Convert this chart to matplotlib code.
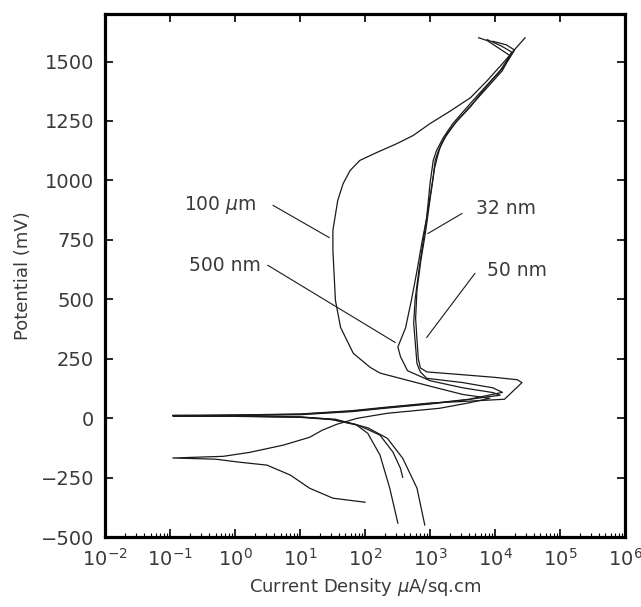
import matplotlib
matplotlib.use('Agg')
import matplotlib.pyplot as plt
import numpy as np

# Polarisation curves: current density (uA/sq.cm), potential (mV)
# each curve runs from the end of the cathodic branch, through Ecorr, up the anodic branch

cur100um = [100, 32, 14, 7.1, 3.1, 1.2, 0.5, 0.11, 0.66, 1.7, 5.5, 14, 22, 37, 76, 220, 1400, 4000, 8300,
			3200, 1000, 380, 170, 120, 66, 42, 35, 32, 32, 38, 46, 59, 83, 150, 310, 550, 1000, 2000, 4200, 7600, 13000, 20000, 29000]
pot100um = [-353, -336, -294, -239, -197, -185, -172, -167, -160, -143, -113, -80, -50, -25, 0, 21, 42, 65, 84,
			100, 135, 165, 190, 214, 273, 382, 496, 706, 790, 916, 987, 1042, 1084, 1117, 1155, 1189, 1239, 1290, 1348, 1420, 1491, 1550, 1600]

cur500nm = [320, 240, 170, 110, 71, 32, 10, 1.0, 0.11, 1.0, 10, 63, 200, 1000, 3200, 12000,
			9300, 3200, 1000, 450, 350, 320, 420, 520, 630, 760, 890, 1000, 1120, 1260, 1600, 2240, 3500, 6300, 12000, 17000, 13000, 7600, 5600]
pot500nm = [-441, -294, -155, -63, -25, -6, 4, 8, 10, 12, 15, 28, 42, 60, 76, 97,
			108, 128, 158, 200, 260, 300, 380, 500, 620, 748, 844, 987, 1084, 1126, 1180, 1239, 1300, 1378, 1462, 1525, 1546, 1588, 1600]

cur50nm = [830, 630, 380, 220, 110, 35, 10, 1.0, 0.11, 1.0, 10, 63, 200, 1000, 4000, 13000,
		   9300, 3200, 890, 710, 630, 600, 560, 590, 680, 790, 930, 1100, 1200, 1350, 1700, 2400, 3800, 6900, 13000, 18000, 12600, 7600]
pot50nm = [-449, -294, -168, -84, -40, -4, 5, 9, 11, 13, 17, 30, 44, 62, 80, 109,
		   128, 150, 168, 195, 230, 300, 400, 500, 630, 750, 880, 1000, 1084, 1126, 1180, 1239, 1300, 1378, 1462, 1540, 1565, 1592]

cur32nm = [380, 350, 270, 170, 80, 29, 10, 1.0, 0.11, 1.0, 10, 63, 200, 1000, 4000, 14000, 26000, 22000,
		   10000, 2600, 890, 710, 660, 630, 600, 630, 720, 850, 1000, 1170, 1300, 1450, 1800, 2600, 4200, 7600, 14000, 20000, 15000, 9300]
pot32nm = [-248, -210, -143, -71, -30, -4, 6, 10, 12, 14, 18, 32, 46, 64, 72, 80, 150, 162,
		   172, 185, 195, 212, 250, 330, 420, 540, 660, 780, 920, 1050, 1100, 1145, 1195, 1250, 1310, 1400, 1480, 1548, 1570, 1585]

# Labels with the pointer line: text position, then the point on the curve
labels = ['100 $\\mu$m', '500 nm', '32 nm', '50 nm']
labelPos = [(0.6, 895), (0.7, 643), (1.5e4, 880), (2.2e4, 623)]
labelStart = [(3.85, 895), (3.2, 643), (3.1e3, 861), (4.9e3, 609)]
labelEnd = [(28, 760), (290, 319), (930, 777), (890, 340)]

xTicks = [1e-2, 1e-1, 1e0, 1e1, 1e2, 1e3, 1e4, 1e5, 1e6]
yTicks = [-500, -250, 0, 250, 500, 750, 1000, 1250, 1500]

textColor = '#3a3a3a'

def plot() :
	fig = plt.figure(figsize=[6.41, 6.07], dpi=100)
	ax = fig.add_axes([0.164, 0.115, 0.811, 0.862])

	for cur, pot in [(cur100um, pot100um), (cur500nm, pot500nm), (cur50nm, pot50nm), (cur32nm, pot32nm)] :
		ax.plot(cur, pot, color='#1a1a1a', linewidth=0.9)

	# Labels and pointers
	for i in range(len(labels)) :
		ax.plot([labelStart[i][0], labelEnd[i][0]], [labelStart[i][1], labelEnd[i][1]], color='#1a1a1a', linewidth=0.8)
		ax.text(labelPos[i][0], labelPos[i][1], labels[i], fontsize=13.5, color=textColor, ha='center', va='center')

	ax.set_xscale('log')
	ax.set_xlim(1e-2, 1e6)
	ax.set_ylim(-500, 1700)
	ax.set_xticks(xTicks)
	ax.set_yticks(yTicks)
	ax.xaxis.set_minor_locator(matplotlib.ticker.LogLocator(base=10, subs=np.arange(2, 10), numticks=20))
	ax.xaxis.set_minor_formatter(matplotlib.ticker.NullFormatter())

	ax.tick_params(axis='both', which='major', direction='in', length=6, width=1.2, labelsize=14, labelcolor=textColor, pad=8)
	ax.tick_params(axis='x', which='minor', direction='in', length=3, width=0.8, top=False)
	ax.tick_params(axis='x', which='major', top=True)
	ax.tick_params(axis='y', which='major', right=True)
	for side in ax.spines :
		ax.spines[side].set_linewidth(2.3)

	# Naming Axes
	ax.set_ylabel('Potential (mV)', fontsize=13, color=textColor, labelpad=6)
	ax.set_xlabel('Current Density $\\mu$A/sq.cm', fontsize=13, color=textColor, labelpad=4)

	fig.savefig('out.png', dpi=100)

def main() :
	plot()

main()
